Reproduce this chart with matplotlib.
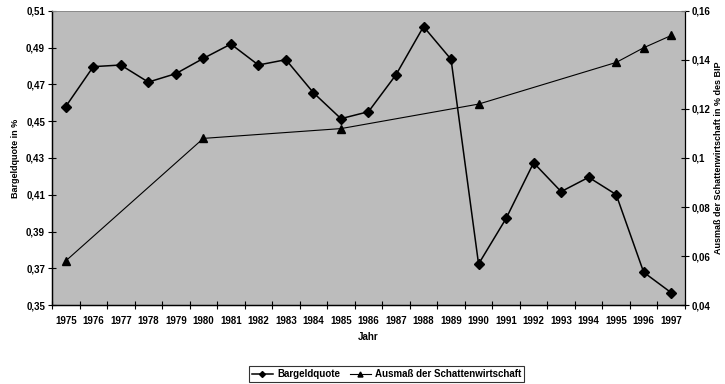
import numpy as np
import matplotlib.pyplot as plt
from matplotlib.ticker import FixedLocator, FuncFormatter

plt.rcParams['font.family'] = ['Liberation Sans', 'DejaVu Sans']
plt.rcParams['font.weight'] = 'bold'

jahre = list(range(1975, 1998))
bargeldquote = [0.458, 0.4797, 0.4806, 0.4713, 0.4759, 0.4842, 0.4920, 0.4806,
                0.4835, 0.4655, 0.4514, 0.4552, 0.4753, 0.5015, 0.4837, 0.3723,
                0.3971, 0.4274, 0.4117, 0.4195, 0.4101, 0.3678, 0.3567]
schatten_jahre = [1975, 1980, 1985, 1990, 1995, 1996, 1997]
schattenwirtschaft = [0.058, 0.108, 0.112, 0.122, 0.139, 0.145, 0.150]

x = np.arange(len(jahre))
xs = [jahre.index(j) for j in schatten_jahre]

fig = plt.figure(figsize=(7.25, 3.84), dpi=100)
ax = fig.add_axes([0.0717, 0.2057, 0.8731, 0.7657])
ax.set_facecolor('#bcbcbc')
ax2 = ax.twinx()

l1, = ax.plot(x, bargeldquote, color='black', lw=1.1, marker='D', ms=5,
              label='Bargeldquote')
l2, = ax2.plot(xs, schattenwirtschaft, color='black', lw=0.8, marker='^', ms=6,
               label='Ausmaß der Schattenwirtschaft')

ax.set_xlim(-0.5, len(jahre) - 0.5)
ax.set_ylim(0.35, 0.51)
ax2.set_ylim(0.04, 0.16)

ax.set_yticks(np.arange(0.35, 0.5101, 0.02))
ax.yaxis.set_major_formatter(FuncFormatter(lambda v, p: f'{v:.2f}'.replace('.', ',')))
ax2.set_yticks(np.arange(0.04, 0.1601, 0.02))
ax2.yaxis.set_major_formatter(
    FuncFormatter(lambda v, p: f'{v:.2f}'.rstrip('0').replace('.', ',')))

# Jahreszahlen mittig, Striche an den Kategoriegrenzen
ax.set_xticks(x)
ax.set_xticklabels([str(j) for j in jahre])
ax.xaxis.set_minor_locator(FixedLocator(np.arange(-0.5, len(jahre), 1)))
ax.tick_params(axis='x', which='major', length=0, labelsize=7, pad=8)
ax.tick_params(axis='x', which='minor', length=6, direction='inout', width=0.8)
ax.tick_params(axis='y', length=6, direction='inout', labelsize=7, width=0.8, pad=2)
ax2.tick_params(axis='y', length=6, direction='inout', labelsize=7, width=0.8, pad=2)

for a in (ax, ax2):
    a.spines['top'].set_color('#8a8a8a')
    a.spines['top'].set_linewidth(0.6)
    a.spines['left'].set_linewidth(0.9)
    a.spines['right'].set_linewidth(0.9)
    a.spines['bottom'].set_linewidth(0.9)
ax.spines['right'].set_visible(False)

ax.set_xlabel('Jahr', fontsize=7, fontweight='bold', labelpad=4)
ax.set_ylabel('Bargeldquote in %', fontsize=6.5, fontweight='bold', labelpad=4)
ax2.set_ylabel('Ausmaß der Schattenwirtschaft in % des BIP', fontsize=6.5,
               fontweight='bold', labelpad=2)

leg = fig.legend(handles=[l1, l2], loc='center', bbox_to_anchor=(0.533, 0.026),
                 ncol=2, fontsize=7, frameon=True, fancybox=False,
                 edgecolor='black', handlelength=2.2, markerscale=0.6,
                 columnspacing=1.0, handletextpad=0.4, borderpad=0.3)
leg.get_frame().set_linewidth(0.8)

fig.savefig('out.png', dpi=100)
